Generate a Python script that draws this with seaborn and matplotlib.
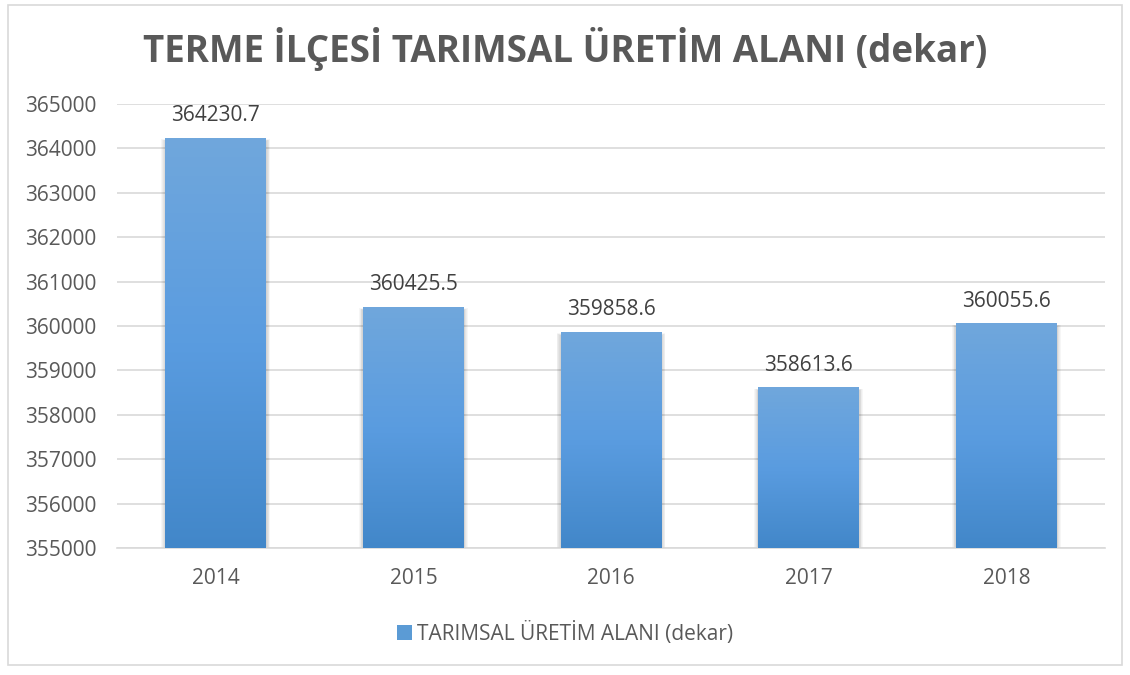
import matplotlib
matplotlib.use("Agg")
import matplotlib.pyplot as plt
import seaborn as sns
import numpy as np
import pandas as pd
from matplotlib.patches import Rectangle
from matplotlib.colors import LinearSegmentedColormap

years = ["2014", "2015", "2016", "2017", "2018"]
values = [364230.7, 360425.5, 359858.6, 358613.6, 360055.6]
yticks = [355000, 356000, 357000, 358000, 359000, 360000, 361000, 362000, 363000, 364000, 365000]
title = "TERME İLÇESİ TARIMSAL ÜRETİM ALANI (dekar)"
series_name = "TARIMSAL ÜRETİM ALANI (dekar)"

sns.set_theme(style="white")
plt.rcParams['font.family'] = ['Open Sans', 'DejaVu Sans']

df = pd.DataFrame({"year": years, "value": values})

fig = plt.figure(figsize=(11.3, 6.75), dpi=100)
ax = fig.add_axes([0.1035, 0.188, 0.8745, 0.658])

sns.barplot(data=df, x="year", y="value", color="#5b9bd5", width=0.51, ax=ax,
            saturation=1, zorder=3)
ymin, ymax = 355000, 365000
ax.set_ylim(ymin, ymax)
ax.set_xlim(-0.5, 4.5)
ax.set_yticks(yticks)
ax.set_yticklabels([str(t) for t in yticks])
ax.yaxis.grid(True, color="#d9d9d9", linewidth=1.2, zorder=0)
ax.xaxis.grid(False)
for s in ["top", "right", "left"]:
    ax.spines[s].set_visible(False)
ax.spines["bottom"].set_color("#d9d9d9")
ax.spines["bottom"].set_linewidth(1.2)
ax.tick_params(axis="both", labelsize=15, colors="#595959", length=0)
ax.tick_params(axis="y", pad=15)
ax.tick_params(axis="x", pad=14)
ax.set_xlabel("")
ax.set_ylabel("")

cmap = LinearSegmentedColormap.from_list("g", ["#4287c9", "#5a9ce0", "#70a7dc"])
grad = np.linspace(0, 1, 256).reshape(-1, 1)
px_x = 1 / 197.6    # data units per pixel, x
px_y = 10000 / 444  # data units per pixel, y
for p in list(ax.patches):
    x0 = p.get_x()
    w = p.get_width()
    top = p.get_y() + p.get_height()
    # soft shadow
    for k in range(1, 6):
        sh = Rectangle((x0 - k * px_x * 0.8, ymin), w + 2 * k * px_x * 0.8,
                       top - ymin - 3 * px_y + k * px_y * 0.4,
                       facecolor="#000000", alpha=0.035, edgecolor="none", zorder=2)
        ax.add_patch(sh)
    ax.imshow(grad, extent=[x0, x0 + w, ymin, top], origin="lower",
              cmap=cmap, aspect="auto", zorder=4, interpolation="bilinear")
    p.set_facecolor("none")
    p.set_edgecolor("none")
    ax.text(x0 + w / 2, top + 17 * px_y, f"{top:.1f}", ha="center", va="baseline",
            fontsize=15, color="#404040", zorder=5)
ax.set_xlim(-0.5, 4.5)
ax.set_ylim(ymin, ymax)

fig.text(0.5, 0.928, title, ha="center", va="center", fontsize=26.5,
         fontweight="bold", color="#595959")

handle = Rectangle((0, 0), 1, 1, facecolor="#5b9bd5", edgecolor="none")
fig.legend([handle], [series_name], loc="center", bbox_to_anchor=(0.5, 0.062),
           frameon=False, fontsize=15, labelcolor="#595959", handlelength=0.7,
           handleheight=0.7, handletextpad=0.25)

border = Rectangle((8 / 1130, 10 / 675), 1114 / 1130, 660 / 675, transform=fig.transFigure,
                   facecolor="none", edgecolor="#d9d9d9", linewidth=1.2)
fig.patches.append(border)

fig.savefig("out.png", dpi=100, facecolor="white")
